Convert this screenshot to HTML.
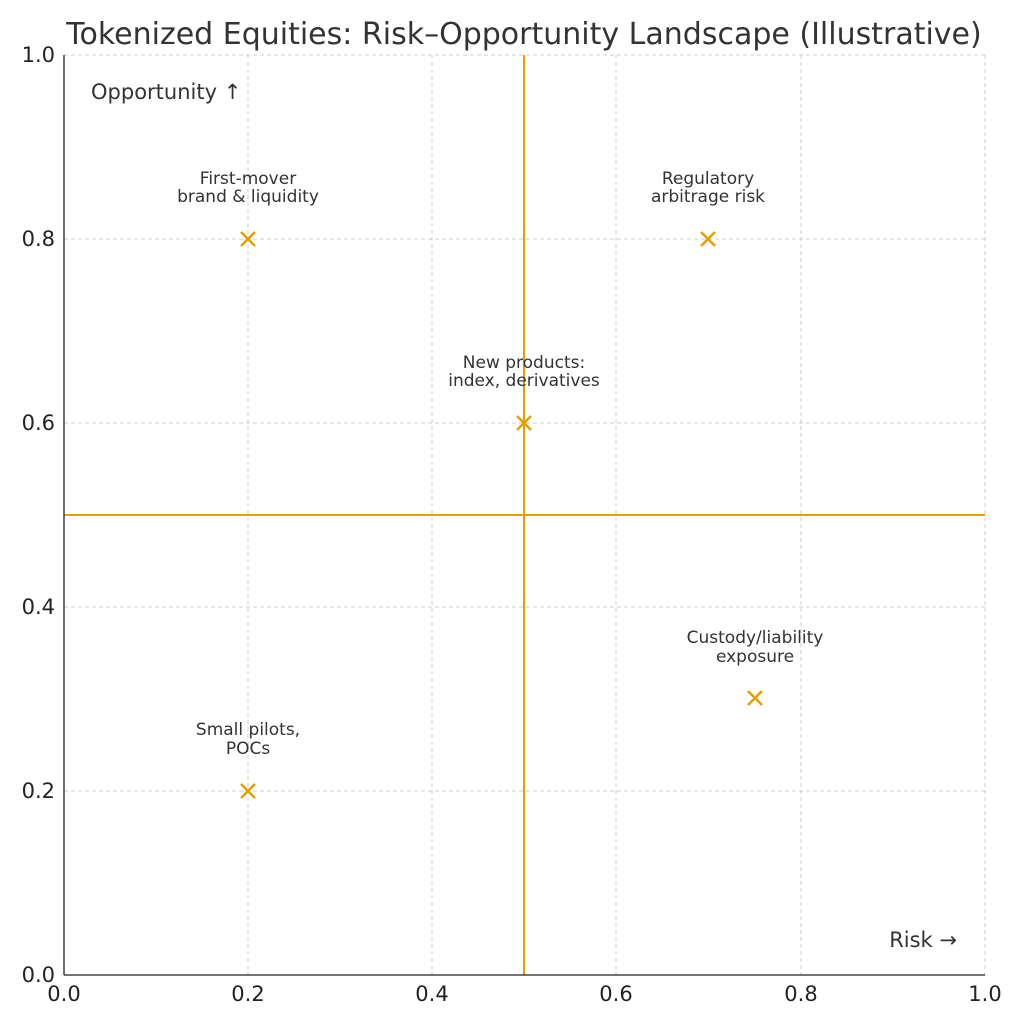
<!DOCTYPE html>
<html><head><meta charset="utf-8"><style>html,body{margin:0;padding:0;background:#fff}</style></head>
<body>
<svg width="1024" height="1024" xmlns="http://www.w3.org/2000/svg" font-family="'DejaVu Sans','Liberation Sans',sans-serif">
<rect width="1024" height="1024" fill="#fff"/>
<text x="524" y="44" font-size="30" text-anchor="middle" fill="#333">Tokenized Equities: Risk–Opportunity Landscape (Illustrative)</text>
<g stroke="#cccccc" stroke-width="1" stroke-dasharray="4,3">
<line x1="248" y1="55" x2="248" y2="975"/><line x1="432" y1="55" x2="432" y2="975"/>
<line x1="616" y1="55" x2="616" y2="975"/><line x1="801" y1="55" x2="801" y2="975"/>
<line x1="985" y1="55" x2="985" y2="975"/>
<line x1="64" y1="55" x2="985" y2="55"/><line x1="64" y1="239" x2="985" y2="239"/>
<line x1="64" y1="423" x2="985" y2="423"/><line x1="64" y1="607" x2="985" y2="607"/>
<line x1="64" y1="791" x2="985" y2="791"/>
</g>
<line x1="524" y1="55" x2="524" y2="975" stroke="#E69F00" stroke-width="2"/>
<line x1="64" y1="515" x2="985" y2="515" stroke="#E69F00" stroke-width="2"/>
<g stroke="#E69F00" stroke-width="2.5">
<path d="M241 232L255 246M255 232L241 246"/>
<path d="M701 232L715 246M715 232L701 246"/>
<path d="M517 416L531 430M531 416L517 430"/>
<path d="M748 691L762 705M762 691L748 705"/>
<path d="M241 784L255 798M255 784L241 798"/>
</g>
<line x1="64" y1="55" x2="64" y2="975" stroke="#222" stroke-width="1.3"/>
<line x1="64" y1="975" x2="985" y2="975" stroke="#222" stroke-width="1.3"/>
<g font-size="17" fill="#333" text-anchor="middle">
<text x="248" y="184">First-mover</text><text x="248" y="202">brand &amp; liquidity</text>
<text x="708" y="184">Regulatory</text><text x="708" y="202">arbitrage risk</text>
<text x="524" y="368">New products:</text><text x="524" y="386">index, derivatives</text>
<text x="755" y="643">Custody/liability</text><text x="755" y="662">exposure</text>
<text x="248" y="735">Small pilots,</text><text x="248" y="754">POCs</text>
</g>
<text x="91" y="99" font-size="21" fill="#333">Opportunity ↑</text>
<text x="957" y="947" font-size="21" fill="#333" text-anchor="end">Risk →</text>
<g font-size="21" fill="#222" text-anchor="middle">
<text x="64" y="1001">0.0</text><text x="248" y="1001">0.2</text><text x="432" y="1001">0.4</text>
<text x="616" y="1001">0.6</text><text x="801" y="1001">0.8</text><text x="985" y="1001">1.0</text>
</g>
<g font-size="21" fill="#222" text-anchor="end">
<text x="55" y="62">1.0</text><text x="55" y="246">0.8</text><text x="55" y="430">0.6</text>
<text x="55" y="614">0.4</text><text x="55" y="798">0.2</text><text x="55" y="982">0.0</text>
</g>
</svg>
</body></html>
